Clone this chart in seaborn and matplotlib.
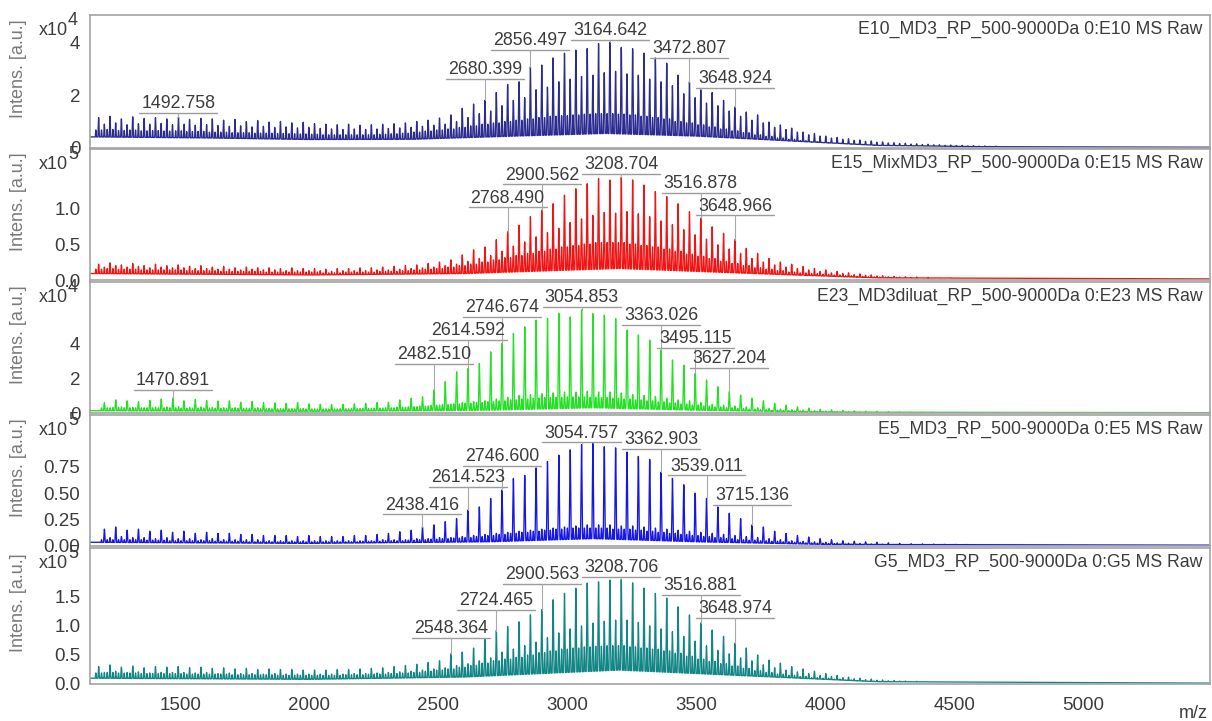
import numpy as np
import matplotlib
matplotlib.use("Agg")
import matplotlib.pyplot as plt
import seaborn as sns

sns.set_style("white")
plt.rcParams["font.family"] = ["Liberation Sans", "DejaVu Sans"]

# ---------------------------------------------------------------- data
REPEAT = 44.025      # spacing of the oligomer series (Da)
SIDE_SHIFT = 22.0    # companion adduct series, half a repeat away (Da)
MINOR_SHIFTS = (-11.0, 11.0)   # weaker series sitting between the two above
MZ_RANGE = (1150, 5490)
MZ_TICKS = [1500, 2000, 2500, 3000, 3500, 4000, 4500, 5000]

# E10 (intensity in units of 1e4)
e10_name = "E10_MD3_RP_500-9000Da 0:E10 MS Raw"
e10_anchor, e10_k0 = 3164.642, -45
e10_main = [1.15, 1.2, 1.1, 1.18, 1.12, 1.15, 1.1, 1.17, 1.08, 1.12,
            1.1, 1.05, 1.08, 1.0, 1.04, 0.98, 1.0, 0.95, 0.97, 0.92,
            0.9, 0.88, 0.9, 0.86, 0.88, 0.9, 0.92, 0.95, 1.0, 1.05,
            1.13, 1.25, 1.5, 1.66, 1.8, 2.1, 2.4, 2.5, 3.06, 3.13, 3.4,
            3.58, 3.7, 3.76, 3.95, 4.0, 3.8, 3.75, 3.58, 3.4, 3.2, 2.75,
            2.5, 2.2, 2.1, 1.8, 1.55, 1.36, 1.25, 0.98, 0.87, 0.75, 0.6,
            0.55, 0.45, 0.4, 0.35, 0.3, 0.27, 0.23, 0.2, 0.18, 0.16, 0.14,
            0.12, 0.11, 0.1, 0.09, 0.08, 0.07]
e10_side = [0.9, 0.95, 0.88, 0.92, 0.9, 0.93, 0.88, 0.9, 0.86, 0.88,
            0.85, 0.82, 0.84, 0.8, 0.82, 0.78, 0.8, 0.76, 0.78, 0.74,
            0.72, 0.7, 0.72, 0.7, 0.72, 0.74, 0.76, 0.78, 0.82, 0.86,
            0.9, 1.0, 1.15, 1.3, 1.4, 1.6, 1.8, 1.9, 2.2, 2.3, 2.5,
            2.6, 2.7, 2.75, 2.85, 2.9, 2.8, 2.75, 2.6, 2.5, 2.35, 2.05,
            1.9, 1.7, 1.6, 1.4, 1.2, 1.05, 0.95, 0.78, 0.7, 0.6, 0.5,
            0.45, 0.38, 0.33, 0.29, 0.25, 0.22, 0.19, 0.17, 0.15, 0.13,
            0.12, 0.1, 0.09, 0.08, 0.07, 0.06, 0.05]
e10_minor = [0.68, 0.7, 0.66, 0.68, 0.65, 0.66, 0.64, 0.65, 0.62, 0.63,
             0.6, 0.6, 0.58, 0.58, 0.56, 0.56, 0.55, 0.54, 0.53, 0.52,
             0.5, 0.5, 0.5, 0.5, 0.5, 0.52, 0.54, 0.56, 0.6, 0.64,
             0.68, 0.72, 0.78, 0.84, 0.9, 0.95, 1.0, 1.05, 1.1, 1.15, 1.2,
             1.22, 1.25, 1.28, 1.3, 1.3, 1.28, 1.25, 1.2, 1.15, 1.1, 1.0,
             0.95, 0.88, 0.8, 0.72, 0.65, 0.58, 0.5, 0.44, 0.38, 0.33, 0.28,
             0.24, 0.21, 0.18, 0.16, 0.14, 0.12, 0.1, 0.09, 0.08, 0.07,
             0.06, 0.05, 0.05, 0.04, 0.04, 0.04, 0.03]
e10_floor_mz = [1150, 1600, 2000, 2400, 2800, 3150, 3500, 3900, 4200, 4600, 5490]
e10_floor = [0.42, 0.38, 0.32, 0.33, 0.45, 0.55, 0.45, 0.25, 0.1, 0.05, 0.03]
e10_labels = ["1492.758", "2680.399", "2856.497", "3164.642", "3472.807", "3648.924"]

# E15 (1e5)
e15_name = "E15_MixMD3_RP_500-9000Da 0:E15 MS Raw"
e15_anchor, e15_k0 = 3208.704, -46
e15_main = [0.22, 0.24, 0.21, 0.23, 0.2, 0.22, 0.2, 0.21, 0.19, 0.2,
            0.18, 0.19, 0.17, 0.18, 0.17, 0.17, 0.16, 0.17, 0.16, 0.16,
            0.15, 0.16, 0.16, 0.17, 0.17, 0.18, 0.19, 0.2, 0.21, 0.23, 0.25,
            0.28, 0.35, 0.42, 0.46, 0.56, 0.67, 0.76, 0.88, 0.97, 1.06,
            1.18, 1.27, 1.34, 1.41, 1.39, 1.43, 1.39, 1.32, 1.23, 1.16,
            1.06, 0.95, 0.86, 0.74, 0.65, 0.56, 0.44, 0.37, 0.30, 0.25,
            0.22, 0.19, 0.16, 0.14, 0.12, 0.1, 0.085, 0.07, 0.06, 0.05,
            0.045, 0.04, 0.035, 0.03, 0.03, 0.025, 0.025, 0.02, 0.02]
e15_side = [0.18, 0.2, 0.18, 0.19, 0.17, 0.18, 0.17, 0.17, 0.16, 0.16,
            0.15, 0.15, 0.14, 0.15, 0.14, 0.14, 0.13, 0.13, 0.13, 0.13,
            0.12, 0.13, 0.13, 0.13, 0.14, 0.14, 0.15, 0.16, 0.17, 0.18, 0.2,
            0.22, 0.26, 0.3, 0.34, 0.4, 0.47, 0.53, 0.6, 0.66, 0.72,
            0.8, 0.85, 0.9, 0.94, 0.93, 0.95, 0.92, 0.88, 0.82, 0.77,
            0.7, 0.63, 0.57, 0.49, 0.43, 0.37, 0.3, 0.25, 0.21, 0.18,
            0.16, 0.14, 0.12, 0.1, 0.09, 0.075, 0.065, 0.055, 0.045, 0.04,
            0.035, 0.03, 0.027, 0.024, 0.022, 0.02, 0.02, 0.018, 0.018]
e15_minor = [0.15, 0.16, 0.15, 0.15, 0.14, 0.14, 0.14, 0.14, 0.13, 0.13,
             0.13, 0.12, 0.12, 0.12, 0.12, 0.11, 0.11, 0.11, 0.11, 0.11,
             0.1, 0.1, 0.11, 0.11, 0.11, 0.12, 0.12, 0.13, 0.14, 0.15, 0.16,
             0.18, 0.2, 0.22, 0.25, 0.28, 0.31, 0.34, 0.37, 0.4, 0.43,
             0.46, 0.48, 0.5, 0.52, 0.52, 0.52, 0.5, 0.48, 0.46, 0.43,
             0.4, 0.36, 0.33, 0.3, 0.26, 0.23, 0.2, 0.17, 0.15, 0.13,
             0.11, 0.1, 0.09, 0.08, 0.07, 0.06, 0.05, 0.045, 0.04, 0.035,
             0.03, 0.027, 0.025, 0.022, 0.02, 0.02, 0.018, 0.016, 0.015]
e15_floor_mz = [1150, 2000, 2600, 3200, 3800, 4200, 5490]
e15_floor = [0.09, 0.07, 0.09, 0.16, 0.08, 0.03, 0.015]
e15_labels = ["2768.490", "2900.562", "3208.704", "3516.878", "3648.966"]

# E23 (1e4)
e23_name = "E23_MD3diluat_RP_500-9000Da 0:E23 MS Raw"
e23_anchor, e23_k0 = 3054.853, -42
e23_main = [0.6, 0.75, 0.7, 0.65, 0.72, 0.8, 0.85, 0.7, 0.78, 0.72,
            0.68, 0.7, 0.62, 0.66, 0.6, 0.58, 0.55, 0.6, 0.52, 0.5,
            0.48, 0.5, 0.52, 0.55, 0.6, 0.62, 0.75, 0.84,
            0.93, 1.31, 1.79, 2.36, 2.55, 2.84, 3.50, 3.98, 4.55, 4.93,
            5.31, 5.41, 5.70, 5.50, 5.9, 5.70, 5.60, 5.41, 4.74, 4.46,
            4.17, 3.6, 3.03, 2.74, 2.27, 1.89, 1.5, 1.22, 1.03, 0.84,
            0.7, 0.55, 0.45, 0.36, 0.28, 0.22, 0.18, 0.15, 0.12, 0.1,
            0.09, 0.08, 0.07, 0.06, 0.05, 0.05, 0.04, 0.04, 0.03, 0.03, 0.03, 0.03]
e23_side = [0.3, 0.35, 0.32, 0.3, 0.33, 0.35, 0.36, 0.32, 0.34, 0.32,
            0.3, 0.31, 0.28, 0.3, 0.27, 0.26, 0.25, 0.26, 0.24, 0.24,
            0.23, 0.24, 0.25, 0.26, 0.28, 0.3, 0.33, 0.36,
            0.4, 0.45, 0.5, 0.6, 0.65, 0.7, 0.8, 0.9, 1.0, 1.05,
            1.1, 1.15, 1.2, 1.2, 1.25, 1.2, 1.2, 1.15, 1.05, 1.0,
            0.95, 0.85, 0.75, 0.7, 0.6, 0.5, 0.45, 0.4, 0.35, 0.3,
            0.26, 0.22, 0.19, 0.16, 0.13, 0.11, 0.09, 0.08, 0.07, 0.06,
            0.05, 0.05, 0.04, 0.04, 0.03, 0.03, 0.03, 0.02, 0.02, 0.02, 0.02, 0.02]
e23_minor = [0.3, 0.32, 0.3, 0.3, 0.3, 0.3, 0.3, 0.28, 0.28, 0.28,
             0.27, 0.27, 0.26, 0.26, 0.25, 0.24, 0.24, 0.24, 0.23, 0.23,
             0.23, 0.24, 0.25, 0.26, 0.28, 0.3, 0.33, 0.36,
             0.4, 0.44, 0.48, 0.52, 0.56, 0.6, 0.65, 0.7, 0.75, 0.8,
             0.85, 0.88, 0.9, 0.92, 0.92, 0.9, 0.88, 0.85, 0.8, 0.75,
             0.7, 0.64, 0.58, 0.52, 0.46, 0.4, 0.35, 0.3, 0.26, 0.22,
             0.19, 0.16, 0.14, 0.12, 0.1, 0.09, 0.08, 0.07, 0.06, 0.05,
             0.05, 0.04, 0.04, 0.03, 0.03, 0.03, 0.02, 0.02, 0.02, 0.02, 0.02, 0.02]
e23_floor_mz = [1150, 2000, 2700, 3100, 3500, 4000, 5490]
e23_floor = [0.13, 0.09, 0.16, 0.3, 0.16, 0.05, 0.02]
e23_labels = ["1470.891", "2482.510", "2614.592", "2746.674", "3054.853",
              "3363.026", "3495.115", "3627.204"]

# E5 (1e5)
e5_name = "E5_MD3_RP_500-9000Da 0:E5 MS Raw"
e5_anchor, e5_k0 = 3054.757, -42
e5_main = [0.16, 0.18, 0.15, 0.16, 0.14, 0.15, 0.13, 0.14, 0.12, 0.13,
           0.12, 0.12, 0.11, 0.11, 0.1, 0.1, 0.1, 0.09, 0.1, 0.09,
           0.09, 0.09, 0.1, 0.1, 0.11,
           0.12, 0.136, 0.15, 0.18, 0.2, 0.23, 0.26, 0.34, 0.37, 0.45,
           0.53, 0.64, 0.67, 0.74, 0.80, 0.86, 0.91, 0.96, 0.97, 0.94,
           0.93, 0.89, 0.85, 0.82, 0.70, 0.64, 0.58, 0.50, 0.45, 0.37,
           0.31, 0.26, 0.20, 0.18, 0.14, 0.12, 0.10,
           0.085, 0.07, 0.06, 0.05, 0.045, 0.04, 0.035, 0.03, 0.025, 0.022,
           0.02, 0.018, 0.016, 0.015, 0.014, 0.013, 0.012, 0.012]
e5_side = [0.08, 0.09, 0.08, 0.08, 0.07, 0.08, 0.07, 0.07, 0.06, 0.07,
           0.06, 0.06, 0.06, 0.06, 0.05, 0.05, 0.05, 0.05, 0.05, 0.05,
           0.05, 0.05, 0.05, 0.05, 0.06,
           0.06, 0.06, 0.07, 0.07, 0.08, 0.08, 0.09, 0.1, 0.11, 0.12,
           0.13, 0.14, 0.15, 0.16, 0.17, 0.18, 0.19, 0.2, 0.2, 0.2,
           0.19, 0.19, 0.18, 0.17, 0.16, 0.15, 0.14, 0.13, 0.12, 0.11,
           0.1, 0.09, 0.08, 0.07, 0.06, 0.05, 0.045,
           0.04, 0.035, 0.03, 0.027, 0.024, 0.02, 0.018, 0.016, 0.014, 0.012,
           0.011, 0.01, 0.01, 0.01, 0.01, 0.01, 0.01, 0.01]
e5_minor = [0.06, 0.06, 0.06, 0.06, 0.055, 0.055, 0.05, 0.05, 0.05, 0.05,
            0.045, 0.045, 0.045, 0.04, 0.04, 0.04, 0.04, 0.04, 0.04, 0.04,
            0.04, 0.04, 0.04, 0.045, 0.045,
            0.05, 0.05, 0.055, 0.06, 0.065, 0.07, 0.075, 0.08, 0.09, 0.1,
            0.11, 0.12, 0.13, 0.14, 0.15, 0.16, 0.17, 0.17, 0.17, 0.17,
            0.16, 0.16, 0.15, 0.14, 0.13, 0.12, 0.11, 0.1, 0.09, 0.08,
            0.07, 0.06, 0.055, 0.05, 0.045, 0.04, 0.035,
            0.03, 0.027, 0.024, 0.02, 0.018, 0.016, 0.014, 0.012, 0.011, 0.01,
            0.01, 0.01, 0.009, 0.009, 0.008, 0.008, 0.008, 0.008]
e5_floor_mz = [1150, 2000, 2700, 3100, 3500, 4000, 5490]
e5_floor = [0.035, 0.025, 0.04, 0.07, 0.04, 0.015, 0.008]
e5_labels = ["2438.416", "2614.523", "2746.600", "3054.757", "3362.903",
             "3539.011", "3715.136"]

# G5 (1e5)
g5_name = "G5_MD3_RP_500-9000Da 0:G5 MS Raw"
g5_anchor, g5_k0 = 3208.706, -46
g5_main = [0.3, 0.33, 0.29, 0.31, 0.28, 0.3, 0.29, 0.3, 0.28, 0.29,
           0.27, 0.28, 0.26, 0.27, 0.25, 0.26, 0.25, 0.25, 0.24, 0.24,
           0.24, 0.25, 0.25, 0.26, 0.27, 0.28, 0.3, 0.32, 0.34, 0.37, 0.4,
           0.52, 0.55, 0.62, 0.78, 0.92, 0.99, 1.07, 1.19, 1.28, 1.45,
           1.56, 1.65, 1.74, 1.76, 1.79, 1.8, 1.74, 1.65, 1.56, 1.48,
           1.33, 1.19, 1.05, 0.93, 0.82, 0.70, 0.62, 0.50, 0.41, 0.36,
           0.3, 0.26, 0.22, 0.18, 0.15, 0.12, 0.1, 0.085, 0.07, 0.06,
           0.05, 0.045, 0.04, 0.035, 0.03, 0.03, 0.025, 0.025, 0.02]
g5_side = [0.2, 0.22, 0.2, 0.21, 0.19, 0.2, 0.2, 0.2, 0.19, 0.2,
           0.18, 0.19, 0.18, 0.18, 0.17, 0.18, 0.17, 0.17, 0.17, 0.17,
           0.17, 0.17, 0.18, 0.18, 0.19, 0.2, 0.21, 0.22, 0.24, 0.26, 0.28,
           0.32, 0.35, 0.4, 0.45, 0.55, 0.6, 0.66, 0.72, 0.8, 0.88,
           0.95, 1.0, 1.05, 1.08, 1.1, 1.1, 1.06, 1.0, 0.95, 0.9,
           0.82, 0.74, 0.66, 0.58, 0.52, 0.45, 0.4, 0.33, 0.28, 0.24,
           0.21, 0.18, 0.15, 0.13, 0.11, 0.09, 0.075, 0.065, 0.055, 0.05,
           0.04, 0.035, 0.03, 0.028, 0.025, 0.022, 0.02, 0.02, 0.018]
g5_minor = [0.19, 0.2, 0.19, 0.19, 0.18, 0.18, 0.18, 0.18, 0.17, 0.17,
            0.17, 0.17, 0.16, 0.16, 0.16, 0.16, 0.15, 0.15, 0.15, 0.15,
            0.15, 0.15, 0.16, 0.16, 0.17, 0.17, 0.18, 0.19, 0.2, 0.22, 0.24,
            0.26, 0.29, 0.32, 0.36, 0.4, 0.43, 0.46, 0.5, 0.54, 0.57,
            0.6, 0.62, 0.64, 0.65, 0.66, 0.66, 0.64, 0.62, 0.6, 0.57,
            0.53, 0.48, 0.43, 0.39, 0.35, 0.31, 0.27, 0.23, 0.2, 0.17,
            0.15, 0.13, 0.11, 0.1, 0.085, 0.07, 0.06, 0.05, 0.045, 0.04,
            0.035, 0.03, 0.027, 0.024, 0.022, 0.02, 0.018, 0.016, 0.015]
g5_floor_mz = [1150, 2000, 2600, 3200, 3800, 4200, 5490]
g5_floor = [0.1, 0.08, 0.12, 0.24, 0.12, 0.04, 0.015]
g5_labels = ["2548.364", "2724.465", "2900.563", "3208.706", "3516.881", "3648.974"]

# ---------------------------------------------------------------- layout
panels = [
    dict(name=e10_name, anchor=e10_anchor, k0=e10_k0, main=e10_main, side=e10_side,
         minor=e10_minor, floor_mz=e10_floor_mz, floor=e10_floor, labels=e10_labels),
    dict(name=e15_name, anchor=e15_anchor, k0=e15_k0, main=e15_main, side=e15_side,
         minor=e15_minor, floor_mz=e15_floor_mz, floor=e15_floor, labels=e15_labels),
    dict(name=e23_name, anchor=e23_anchor, k0=e23_k0, main=e23_main, side=e23_side,
         minor=e23_minor, floor_mz=e23_floor_mz, floor=e23_floor, labels=e23_labels),
    dict(name=e5_name, anchor=e5_anchor, k0=e5_k0, main=e5_main, side=e5_side,
         minor=e5_minor, floor_mz=e5_floor_mz, floor=e5_floor, labels=e5_labels),
    dict(name=g5_name, anchor=g5_anchor, k0=g5_k0, main=g5_main, side=g5_side,
         minor=g5_minor, floor_mz=g5_floor_mz, floor=g5_floor, labels=g5_labels),
]
style = [
    dict(color="#2c2c90", exp=4, ylim=5.02, major=[0, 2, 4], fmt="{:.0f}", shown=3,
         minor=[1, 3, 5], label_y=[1.32, 2.6, 3.7, 4.08, 3.4, 2.26]),
    dict(color="#f01414", exp=5, ylim=1.82, major=[0, 0.5, 1.0, 1.5], fmt="{:.1f}", shown=3,
         minor=list(np.arange(0.1, 1.81, 0.1)), label_y=[1.01, 1.33, 1.47, 1.21, 0.9]),
    dict(color="#24e024", exp=4, ylim=7.49, major=[0, 2, 4, 6], fmt="{:.0f}", shown=3,
         minor=[1, 3, 5, 7], label_y=[1.31, 2.8, 4.17, 5.49, 6.05, 5.03, 3.71, 2.57]),
    dict(color="#1616e8", exp=5, ylim=1.24, major=[0, 0.25, 0.5, 0.75, 1.0], fmt="{:.2f}", shown=4,
         minor=list(np.arange(0.05, 1.24, 0.05)), label_y=[0.30, 0.56, 0.76, 0.98, 0.92, 0.67, 0.39]),
    dict(color="#128585", exp=5, ylim=2.34, major=[0, 0.5, 1.0, 1.5, 2.0], fmt="{:.1f}", shown=4,
         minor=list(np.arange(0.1, 2.34, 0.1)), label_y=[0.79, 1.28, 1.72, 1.84, 1.53, 1.14]),
]

W, H = 1212, 721
PX = 0.72                      # points per pixel at 100 dpi
edges = [(15, 148), (149, 280), (282, 413), (415, 546), (548, 684)]
x_left, x_right = 90, 1210

GRID_COL = "#a3a3a3"
TXT_COL = "#3c3c3c"

fig = plt.figure(figsize=(W / 100, H / 100), dpi=100)
x = np.arange(MZ_RANGE[0], MZ_RANGE[1] + 0.25, 0.25)
SIGMA = 1.9

pending = []
for i, (p, s) in enumerate(zip(panels, style)):
    top, bot = edges[i]
    ax = fig.add_axes([x_left / W, 1 - bot / H, (x_right - x_left) / W, (bot - top) / H])

    main = np.asarray(p["main"], float)
    side = np.asarray(p["side"], float)
    minor = np.asarray(p["minor"], float)
    k = np.arange(p["k0"], p["k0"] + len(main))
    mz_main = p["anchor"] + k * REPEAT
    # labelled peaks sit exactly at their reported m/z
    for lab in p["labels"]:
        v = float(lab)
        j = np.argmin(np.abs(mz_main - v))
        if abs(mz_main[j] - v) < 3:
            mz_main[j] = v

    peaks = list(zip(mz_main, main)) + list(zip(mz_main + SIDE_SHIFT, side))
    for sh in MINOR_SHIFTS:
        peaks += list(zip(mz_main + sh, minor))

    y = np.interp(x, p["floor_mz"], p["floor"])
    for m, h in peaks:
        sl = (x > m - 8) & (x < m + 8)
        y[sl] = np.maximum(y[sl], h * np.exp(-0.5 * ((x[sl] - m) / SIGMA) ** 2))

    sns.lineplot(x=x, y=y, ax=ax, color=s["color"], linewidth=0.95,
                 estimator=None, sort=False, legend=False)

    ax.set_xlim(*MZ_RANGE)
    ax.set_ylim(0, s["ylim"])
    for sp in ax.spines.values():
        sp.set_color(GRID_COL)
        sp.set_linewidth(1.2)
        sp.set_visible(True)

    ax.set_yticks(s["major"])
    ax.set_yticklabels([s["fmt"].format(v) if n < s["shown"] else ""
                        for n, v in enumerate(s["major"])])
    ax.set_yticks(s["minor"], minor=True)
    ax.tick_params(axis="y", which="major", direction="out", length=6, width=1,
                   color=GRID_COL, labelcolor=TXT_COL, labelsize=13.5, pad=1)
    ax.tick_params(axis="y", which="minor", direction="out", length=3.5, width=1,
                   color=GRID_COL)
    if i < len(panels) - 1:
        ax.set_xticks([])
        ax.set_xticks([], minor=True)
    else:
        ax.set_xticks(MZ_TICKS)
        ax.set_xticklabels([str(v) for v in MZ_TICKS])
        ax.set_xticks(np.arange(1200, 5490, 100), minor=True)
        ax.tick_params(axis="x", which="major", direction="out", length=6, width=1,
                       color=GRID_COL, labelcolor=TXT_COL, labelsize=13.5, pad=3)
        ax.tick_params(axis="x", which="minor", direction="out", length=5, width=1,
                       color=GRID_COL)

    ax.set_xlabel("")
    ax.set_ylabel("Intens. [a.u.]", fontsize=13, color="#7a7a7a")
    ax.yaxis.set_label_coords(-0.056, 0.6)

    # scale factor "x10^n" in the upper left corner
    ax.annotate("x10", xy=(0, 1), xycoords="axes fraction",
                xytext=(-22 * PX, -20 * PX), textcoords="offset points",
                ha="right", va="baseline", fontsize=13, color=TXT_COL)
    ax.annotate(str(s["exp"]), xy=(0, 1), xycoords="axes fraction",
                xytext=(-22 * PX, -10 * PX), textcoords="offset points",
                ha="left", va="baseline", fontsize=13, color=TXT_COL)
    ax.text(0.9935, 0.955, p["name"], transform=ax.transAxes, ha="right", va="top",
            fontsize=12.7, color=TXT_COL)

    for lab, ly in zip(p["labels"], s["label_y"]):
        v = float(lab)
        j = np.argmin(np.abs(mz_main - v))
        t = ax.annotate(lab, xy=(v, ly), xytext=(0, 0.5), textcoords="offset points",
                        ha="center", va="bottom", fontsize=12.8, color=TXT_COL, zorder=5)
        pending.append((ax, t, v, ly, main[j]))

fig.text(1193 / W, 1 - 713 / H, "m/z", ha="center", va="center", fontsize=13, color=TXT_COL)

# underline each peak label and drop a leader line to its peak
fig.canvas.draw()
renderer = fig.canvas.get_renderer()
for ax, t, v, ly, top in pending:
    bb = t.get_window_extent(renderer)
    inv = ax.transData.inverted()
    x0 = inv.transform((bb.x0 - 2, 0))[0]
    x1 = inv.transform((bb.x1 + 2, 0))[0]
    ax.plot([x0, x1], [ly, ly], color="#9c9c9c", lw=1.0, zorder=4)
    if ly > top:
        ax.plot([v, v], [ly, top], color="#a8a8a8", lw=0.8, zorder=4)

fig.savefig("out.png", dpi=100)
